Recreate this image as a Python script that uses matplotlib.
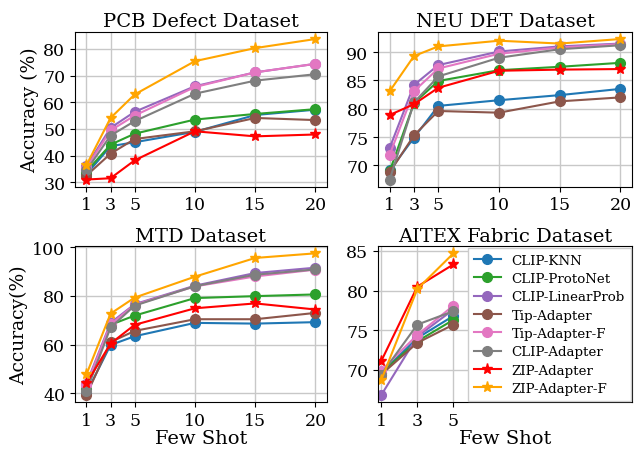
import matplotlib
matplotlib.use("Agg")
import matplotlib.pyplot as plt

SHOTS = [1, 3, 5, 10, 15, 20]
SHOTS_AITEX = [1, 3, 5]

METHODS = [
    "CLIP-KNN",
    "CLIP-ProtoNet",
    "CLIP-LinearProb",
    "Tip-Adapter",
    "Tip-Adapter-F",
    "CLIP-Adapter",
    "ZIP-Adapter",
    "ZIP-Adapter-F",
]
COLORS = ["#1f77b4", "#2ca02c", "#9467bd", "#8c564b", "#e377c2", "#7f7f7f", "red", "orange"]
MARKERS = ["o", "o", "o", "o", "o", "o", "*", "*"]

PCB = [
    [33.0, 43.5, 45.0, 48.9, 55.2, 57.2],
    [34.0, 44.1, 48.2, 53.5, 55.6, 57.4],
    [36.0, 50.4, 56.4, 66.0, 71.2, 74.4],
    [32.5, 40.7, 46.2, 49.1, 54.1, 53.3],
    [35.5, 49.4, 55.0, 65.7, 71.2, 74.4],
    [34.5, 47.5, 52.9, 63.2, 68.1, 70.5],
    [31.0, 31.5, 38.2, 49.1, 47.2, 47.9],
    [36.4, 54.1, 62.9, 75.4, 80.3, 83.7],
]
NEU = [
    [69.1, 74.9, 80.5, 81.5, 82.4, 83.5],
    [69.0, 81.0, 84.9, 86.8, 87.4, 88.1],
    [73.1, 84.2, 87.7, 90.1, 91.0, 91.5],
    [68.8, 75.3, 79.6, 79.3, 81.3, 82.0],
    [71.9, 83.1, 87.1, 89.7, 90.8, 91.4],
    [67.5, 81.1, 85.7, 89.0, 90.5, 91.2],
    [78.9, 80.8, 83.7, 86.7, 86.9, 87.0],
    [83.1, 89.3, 91.0, 92.0, 91.5, 92.3],
]
MTD = [
    [40.1, 59.8, 63.4, 68.9, 68.6, 69.2],
    [41.9, 68.1, 71.9, 79.1, 79.9, 80.6],
    [43.9, 68.9, 76.6, 84.2, 89.4, 91.6],
    [39.2, 61.0, 65.6, 70.4, 70.4, 73.0],
    [43.3, 68.3, 76.3, 83.9, 88.0, 90.8],
    [40.8, 67.0, 76.0, 84.0, 88.7, 90.9],
    [44.0, 60.4, 68.1, 74.9, 76.9, 74.4],
    [47.7, 72.7, 79.3, 87.9, 95.6, 97.5],
]
AITEX = [
    [69.6, 74.0, 76.8],
    [69.6, 73.6, 76.3],
    [66.8, 74.2, 77.6],
    [69.4, 73.4, 75.7],
    [69.9, 74.4, 78.1],
    [69.4, 75.7, 77.4],
    [71.1, 80.5, 83.3],
    [68.7, 80.2, 84.7],
]

plt.rcParams.update({
    "font.family": "DejaVu Serif",
    "xtick.labelsize": 12.5,
    "ytick.labelsize": 12.5,
})


def draw(ax, x, series, title):
    for vals, color, marker, label in zip(series, COLORS, MARKERS, METHODS):
        ms = 8 if marker == "*" else 7
        ax.plot(x, vals, color=color, marker=marker, markersize=ms, linewidth=1.5, label=label)
    ax.set_title(title, fontsize=14, pad=4)
    ax.set_xticks(x)
    ax.grid(True, color="#c8c8c8", linewidth=1.0)
    ax.set_axisbelow(True)


fig = plt.figure(figsize=(6.41, 4.52), dpi=100)
ax1 = fig.add_axes([0.117, 0.585, 0.393, 0.342])
ax2 = fig.add_axes([0.590, 0.585, 0.396, 0.342])
ax3 = fig.add_axes([0.117, 0.108, 0.393, 0.345])
ax4 = fig.add_axes([0.590, 0.108, 0.396, 0.345])

draw(ax1, SHOTS, PCB, "PCB Defect Dataset")
ax1.set_ylabel("Accuracy (%)", fontsize=13.5, labelpad=3)
ax1.set_yticks([30, 40, 50, 60, 70, 80])

draw(ax2, SHOTS, NEU, "NEU DET Dataset")
ax2.set_yticks([70, 75, 80, 85, 90])

draw(ax3, SHOTS, MTD, "MTD Dataset")
ax3.set_ylabel("Accuracy(%)", fontsize=13.5, labelpad=3)
ax3.set_xlabel("Few Shot", fontsize=14, labelpad=0)
ax3.set_yticks([40, 60, 80, 100])

draw(ax4, SHOTS_AITEX, AITEX, "AITEX Fabric Dataset")
ax4.set_xlabel("Few Shot", fontsize=14, labelpad=0)
ax4.set_xlim(0.83, 14.9)
ax4.set_yticks([70, 75, 80, 85])
ax4.legend(loc="upper right", fontsize=9.6, labelspacing=0.4,
           borderaxespad=0.1, fancybox=False, edgecolor="#cccccc",
           framealpha=1.0, handlelength=2.0, borderpad=0.45)

fig.savefig("out.png", dpi=100)
